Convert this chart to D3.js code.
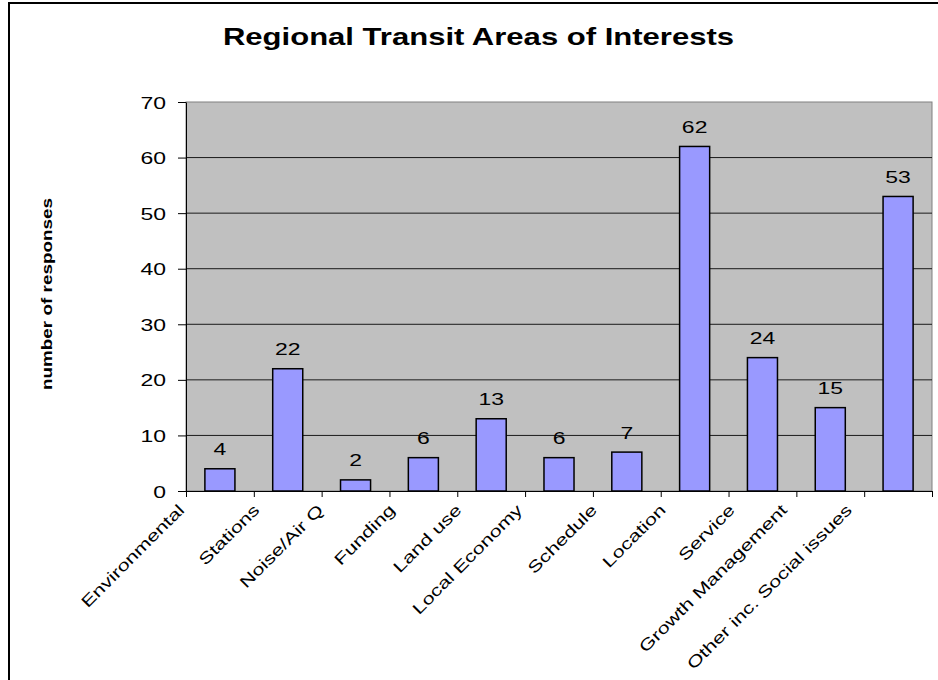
<!DOCTYPE html>
<html>
<head>
<meta charset="utf-8">
<script src="https://cdn.jsdelivr.net/npm/d3@7"></script>
<style>
  body { margin: 0; background: #fff; }
  text { font-family: "Liberation Sans", Arial, sans-serif; fill: #000; }
</style>
</head>
<body>
<svg id="chart" width="938" height="680"></svg>
<script>
const categories = ["Environmental", "Stations", "Noise/Air Q", "Funding", "Land use", "Local Economy",
    "Schedule", "Location", "Service", "Growth Management", "Other inc. Social issues"];
const responses = [4, 22, 2, 6, 13, 6, 7, 62, 24, 15, 53];
const yTicks = [0, 10, 20, 30, 40, 50, 60, 70];
const title = "Regional Transit Areas of Interests";
const yTitle = "number of responses";

const svg = d3.select("#chart");
const plot = {left: 186, right: 932, top: 102, bottom: 491};
const stretch = 1.35; // the picture's text is drawn wider along its baseline

// outer frame
svg.append("rect")
    .attr("x", 9).attr("y", 3)
    .attr("width", 945).attr("height", 700)
    .attr("fill", "none").attr("stroke", "#000").attr("stroke-width", 2);

const x = d3.scaleBand()
    .domain(categories)
    .range([plot.left, plot.right])
    .paddingInner(0.557)
    .paddingOuter(0.2785);

const xEdge = d3.scaleLinear()
    .domain([0, categories.length])
    .range([plot.left, plot.right]);

const y = d3.scaleLinear()
    .domain([0, 70])
    .range([plot.bottom, plot.top]);

// plot background
svg.append("rect")
    .attr("x", plot.left).attr("y", plot.top)
    .attr("width", plot.right - plot.left).attr("height", plot.bottom - plot.top)
    .attr("fill", "#c0c0c0").attr("stroke", "#808080").attr("stroke-width", 1);

// gridlines
svg.append("g")
    .selectAll("line")
    .data(yTicks.filter(d => d > 0 && d < 70))
    .enter()
    .append("line")
    .attr("x1", plot.left).attr("x2", plot.right)
    .attr("y1", d => y(d)).attr("y2", d => y(d))
    .attr("stroke", "#1a1a1a").attr("stroke-width", 1);

// bars
svg.append("g")
    .selectAll("rect")
    .data(categories)
    .enter()
    .append("rect")
    .attr("x", d => x(d))
    .attr("y", (d, i) => y(responses[i]))
    .attr("width", x.bandwidth())
    .attr("height", (d, i) => y(0) - y(responses[i]))
    .attr("fill", "#9999ff")
    .attr("stroke", "#000")
    .attr("stroke-width", 1.5);

// value labels
svg.append("g")
    .selectAll("text")
    .data(categories)
    .enter()
    .append("text")
    .attr("text-anchor", "middle")
    .attr("font-size", 17)
    .attr("transform", (d, i) => "translate(" + (x(d) + x.bandwidth() / 2) + "," + (y(responses[i]) - 13.5) + ") scale(" + stretch + ",1)")
    .text((d, i) => responses[i]);

// y axis
const yAxis = svg.append("g")
    .attr("transform", "translate(" + plot.left + ",0)")
    .call(d3.axisLeft(y).tickValues(yTicks).tickSize(8).tickSizeOuter(0));
yAxis.select(".domain").attr("stroke", "#000");
yAxis.selectAll("line").attr("stroke", "#000");
yAxis.selectAll("text")
    .attr("x", 0).attr("dy", null)
    .attr("font-size", 17)
    .attr("font-family", "Liberation Sans, Arial, sans-serif")
    .attr("fill", "#000")
    .attr("transform", "translate(-20,6) scale(" + stretch + ",1)");

// x axis, ticks between categories
const xAxis = svg.append("g")
    .attr("transform", "translate(0," + plot.bottom + ")")
    .call(d3.axisBottom(xEdge).tickValues(d3.range(categories.length + 1)).tickSize(6).tickSizeOuter(0).tickFormat(""));
xAxis.select(".domain").attr("stroke", "#000");
xAxis.selectAll("line").attr("stroke", "#000");

// category labels, rotated
const labels = svg.append("g")
    .selectAll("text")
    .data(categories)
    .enter()
    .append("text")
    .attr("text-anchor", "end")
    .attr("font-size", 16)
    .text(d => d);

labels.attr("transform", function (d) {
    const len = this.getComputedTextLength() * stretch;
    const cx = x(d) + x.bandwidth() / 2;
    const ex = cx - 18 - 0.12 * len;
    return "translate(" + ex + ",511) rotate(-45) scale(" + stretch + ",1)";
});

// title
svg.append("text")
    .attr("text-anchor", "middle")
    .attr("font-size", 23)
    .attr("font-weight", "bold")
    .attr("transform", "translate(478.5,45) scale(" + stretch + ",1)")
    .text(title);

// y axis title
svg.append("text")
    .attr("text-anchor", "middle")
    .attr("font-size", 14)
    .attr("font-weight", "bold")
    .attr("transform", "translate(52,294) rotate(-90) scale(" + stretch + ",1)")
    .text(yTitle);
</script>
</body>
</html>
